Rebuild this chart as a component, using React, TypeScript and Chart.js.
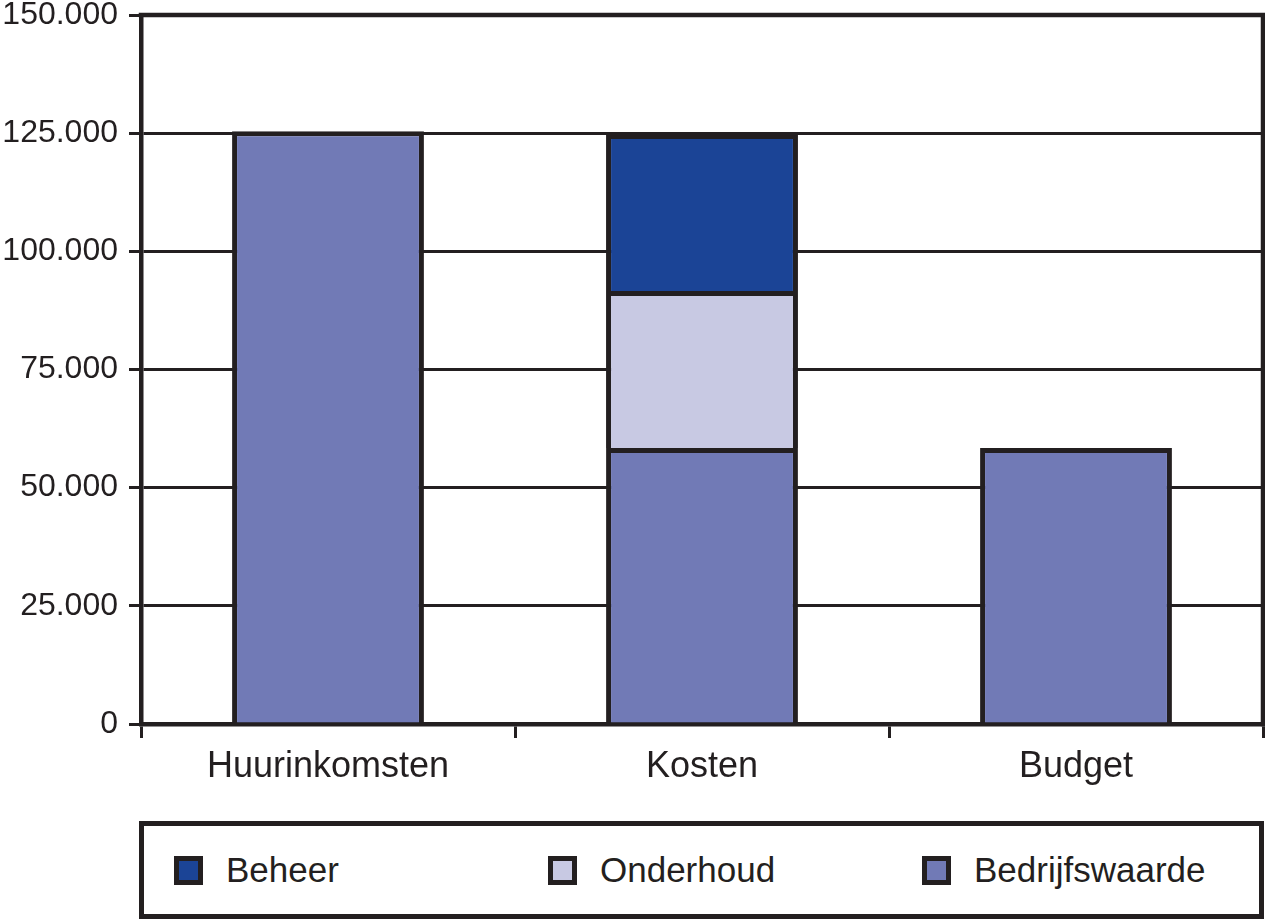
import React, { useEffect, useRef } from "react";
import { Chart, registerables } from "chart.js";

Chart.register(...registerables);

const categories = ["Huurinkomsten", "Kosten", "Budget"];
const bedrijfswaarde = [125400, 58400, 58400];
const onderhoud = [null, 33200, null];
const beheer = [null, 33200, null];

const legendItems = ["Beheer", "Onderhoud", "Bedrijfswaarde"];

const INK = "#231f20";
const COLOR_BEDRIJF = "#717ab6";
const COLOR_ONDERHOUD = "#c8c9e3";
const COLOR_BEHEER = "#1b4496";
const legendColors = [COLOR_BEHEER, COLOR_ONDERHOUD, COLOR_BEDRIJF];

const FONT = "'Liberation Sans', Arial, Helvetica, sans-serif";

function formatNL(v: number): string {
  const s = Math.round(v).toString();
  return s.replace(/\B(?=(\d{3})+(?!\d))/g, ".");
}

const frameBorder = {
  id: "frameBorder",
  afterDraw(chart: any) {
    const { ctx, chartArea } = chart;
    ctx.save();
    ctx.strokeStyle = INK;
    ctx.lineWidth = 4.5;
    ctx.lineCap = "square";
    ctx.beginPath();
    ctx.moveTo(chartArea.left, chartArea.top);
    ctx.lineTo(chartArea.right, chartArea.top);
    ctx.lineTo(chartArea.right, chartArea.bottom);
    ctx.stroke();
    ctx.restore();
  },
};

export default function App() {
  const canvasRef = useRef<HTMLCanvasElement | null>(null);

  useEffect(() => {
    if (!canvasRef.current) return;
    const barOpts = {
      borderColor: INK,
      borderWidth: 5,
      borderSkipped: "start" as const,
      categoryPercentage: 1,
      barPercentage: 0.513,
    };
    const chart = new Chart(canvasRef.current, {
      type: "bar",
      data: {
        labels: categories,
        datasets: [
          { label: "Bedrijfswaarde", data: bedrijfswaarde, backgroundColor: COLOR_BEDRIJF, ...barOpts },
          { label: "Onderhoud", data: onderhoud as any, backgroundColor: COLOR_ONDERHOUD, ...barOpts },
          { label: "Beheer", data: beheer as any, backgroundColor: COLOR_BEHEER, ...barOpts },
        ],
      },
      options: {
        animation: false,
        responsive: false,
        maintainAspectRatio: false,
        layout: { padding: { top: 15, right: 2, left: 0, bottom: 0 } },
        plugins: {
          legend: { display: false },
          tooltip: { enabled: false },
        },
        scales: {
          x: {
            stacked: true,
            offset: true,
            grid: {
              display: true,
              drawOnChartArea: false,
              drawTicks: true,
              tickLength: 14,
              offset: true,
              lineWidth: 3,
              color: INK,
            },
            border: { display: true, color: INK, width: 4.5 },
            ticks: {
              color: INK,
              padding: 7,
              maxRotation: 0,
              font: { family: FONT, size: 36 },
            },
            afterFit(scale: any) {
              scale.height = 76;
              scale.paddingLeft = 0;
              scale.paddingRight = 0;
            },
          },
          y: {
            stacked: true,
            min: 0,
            max: 150000,
            grid: {
              display: true,
              drawTicks: true,
              tickLength: 12,
              lineWidth: 3,
              color: INK,
            },
            border: { display: true, color: INK, width: 4.5 },
            ticks: {
              stepSize: 25000,
              color: INK,
              padding: 11,
              font: { family: FONT, size: 32, lineHeight: 1 },
              callback: (v: any) => formatNL(Number(v)),
            },
            afterFit(scale: any) {
              scale.width = 141;
              scale.paddingTop = 0;
              scale.paddingBottom = 0;
            },
          },
        },
      },
      plugins: [frameBorder],
    });
    return () => chart.destroy();
  }, []);

  return (
    <div
      style={{
        position: "absolute",
        left: 0,
        top: 0,
        width: 1265,
        height: 920,
        background: "#ffffff",
        fontFamily: FONT,
        color: INK,
        overflow: "hidden",
      }}
    >
      <canvas
        ref={canvasRef}
        width={1265}
        height={800}
        style={{ position: "absolute", left: 0, top: 0, width: 1265, height: 800 }}
      />
      <div
        style={{
          position: "absolute",
          left: 139,
          top: 821,
          width: 1125,
          height: 98,
          boxSizing: "border-box",
          border: `5px solid ${INK}`,
        }}
      />
      {legendItems.map((name, i) => (
        <div key={name}>
          <div
            style={{
              position: "absolute",
              left: 174 + i * 374,
              top: 856,
              width: 29,
              height: 29,
              boxSizing: "border-box",
              border: `5px solid ${INK}`,
              background: legendColors[i],
            }}
          />
          <span
            style={{
              position: "absolute",
              left: 226 + i * 374,
              top: 852,
              fontSize: 35,
              lineHeight: "35px",
              whiteSpace: "nowrap",
              fontFamily: FONT,
              color: INK,
            }}
          >
            {name}
          </span>
        </div>
      ))}
    </div>
  );
}
